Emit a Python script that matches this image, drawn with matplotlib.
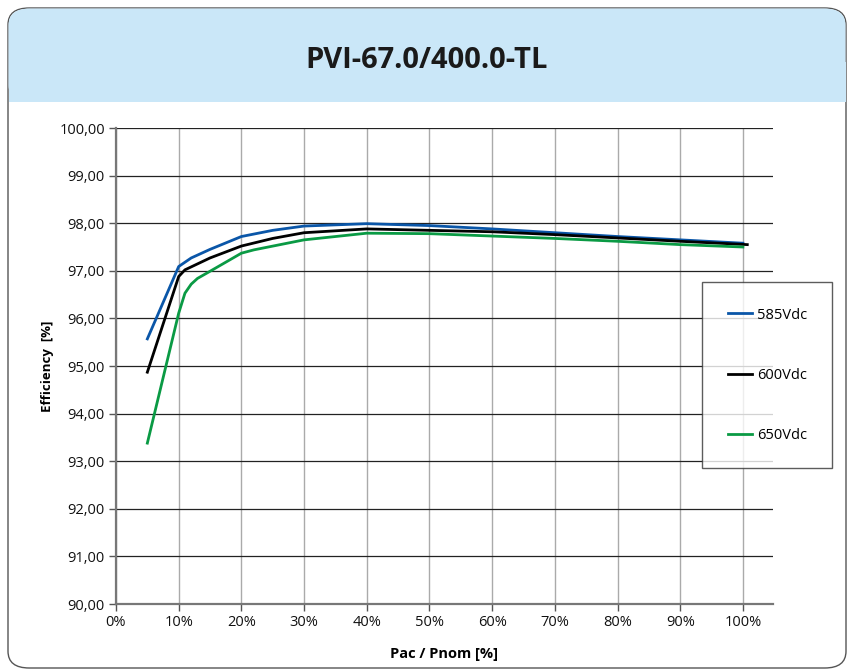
import matplotlib
matplotlib.use("Agg")
import matplotlib.pyplot as plt
from matplotlib.patches import FancyBboxPatch
from matplotlib.ticker import FuncFormatter, MultipleLocator

plt.rcParams['font.family'] = ['Liberation Sans Narrow', 'Open Sans', 'DejaVu Sans']

TITLE = "PVI-67.0/400.0-TL"

# load in % of nominal power, efficiency in %
load_585 = [5, 10, 12, 15, 20, 25, 30, 40, 50, 60, 70, 80, 90, 100]
eff_585 = [95.57, 97.09, 97.27, 97.45, 97.72, 97.85, 97.94, 97.99, 97.95, 97.88, 97.80, 97.72, 97.65, 97.58]

load_600 = [5, 10, 11, 15, 20, 25, 30, 40, 50, 60, 70, 80, 90, 100.7]
eff_600 = [94.87, 96.88, 97.02, 97.27, 97.52, 97.68, 97.80, 97.88, 97.85, 97.82, 97.76, 97.69, 97.62, 97.55]

load_650 = [5, 10, 11, 12, 13, 15, 20, 22, 30, 40, 50, 60, 70, 80, 90, 100]
eff_650 = [93.38, 96.11, 96.53, 96.72, 96.84, 96.99, 97.37, 97.44, 97.65, 97.79, 97.78, 97.73, 97.68, 97.62, 97.55, 97.50]

series = [
    ("585Vdc", load_585, eff_585, "#0a56a8"),
    ("600Vdc", load_600, eff_600, "#000000"),
    ("650Vdc", load_650, eff_650, "#0a9a44"),
]

W, H = 851, 672
fig = plt.figure(figsize=(W / 100, H / 100), dpi=100)

# rounded frame with light blue header
frame = FancyBboxPatch((8 / W, 4 / H), 838 / W, 660 / H,
                       boxstyle="round,pad=0,rounding_size=0.025",
                       transform=fig.transFigure, facecolor="white",
                       edgecolor="#555555", linewidth=1.0, zorder=-3)
fig.patches.append(frame)
header = FancyBboxPatch((8.5 / W, (H - 102) / H), 837 / W, 93.5 / H,
                        boxstyle="round,pad=0,rounding_size=0.025",
                        transform=fig.transFigure, facecolor="#cae7f8",
                        edgecolor="none", zorder=-2)
fig.patches.append(header)
fig.patches.append(plt.Rectangle((8.5 / W, (H - 102) / H), 837 / W, 40 / H,
                                 transform=fig.transFigure, facecolor="#cae7f8",
                                 edgecolor="none", zorder=-2))
fig.text(427 / W, 1 - 60 / H, TITLE, ha="center", va="center",
         fontsize=21, fontweight="bold", color="#1a1a1a")

ax = fig.add_axes([116 / W, 1 - 604 / H, (773 - 116) / W, (604 - 128) / H])
ax.set_zorder(5)
ax.patch.set_alpha(0)
for name, x, y, c in series:
    ax.plot(x, y, color=c, linewidth=2.0, label=name, zorder=3)

ax.set_xlim(0, 104.8)
ax.set_ylim(90, 100)
ax.xaxis.set_major_locator(MultipleLocator(10))
ax.yaxis.set_major_locator(MultipleLocator(1))
ax.xaxis.set_major_formatter(FuncFormatter(lambda v, p: f"{v:.0f}%"))
ax.yaxis.set_major_formatter(FuncFormatter(lambda v, p: f"{v:.2f}".replace(".", ",")))

ax.grid(axis="y", color="#222222", linewidth=0.9)
ax.grid(axis="x", color="#aaaaaa", linewidth=1.0)
ax.set_axisbelow(True)
for s in ("top", "right"):
    ax.spines[s].set_visible(False)
ax.spines["left"].set_color("#777777")
ax.spines["left"].set_linewidth(1.6)
ax.spines["bottom"].set_color("#777777")
ax.spines["bottom"].set_linewidth(1.6)
ax.tick_params(axis="both", direction="out", length=5, width=1, color="#555555",
               labelsize=10.5, labelcolor="#111111", pad=3)

ax.set_xlabel("Pac / Pnom [%]", fontsize=10.5, fontweight="bold", labelpad=12)
ax.set_ylabel("Efficiency  [%]", fontsize=9.5, fontweight="bold", labelpad=4)

leg = ax.legend(loc="upper left", bbox_to_anchor=((702 - 116) / (773 - 116), (604 - 282) / (604 - 128)),
                frameon=True, fancybox=False, edgecolor="#333333", fontsize=10.5,
                handlelength=1.7, handletextpad=0.3, labelspacing=3.1,
                borderpad=1.75, borderaxespad=0)
leg.get_frame().set_linewidth(1.0)

fig.savefig("out.png", dpi=100)
